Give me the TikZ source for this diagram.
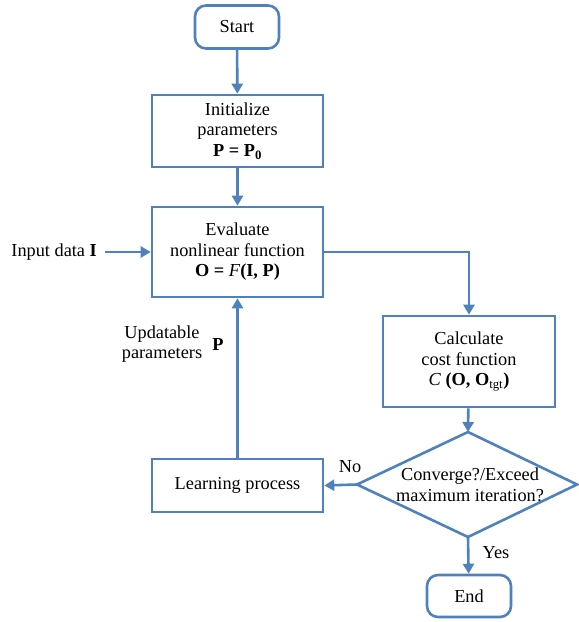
\documentclass[tikz,border=0pt]{standalone}
\usepackage{fontspec}
\setmainfont{Liberation Serif}
\usetikzlibrary{arrows.meta,positioning}
\definecolor{fcblue}{RGB}{79,129,189}
\tikzset{
  box/.style={draw=fcblue, line width=2.6pt, fill=white, align=center, inner sep=2pt, font=\fontsize{18.3}{20.5}\selectfont},
  rbox/.style={box, rounded corners=11pt},
  lbl/.style={align=center, inner sep=1pt, font=\fontsize{18.3}{20.5}\selectfont},
  conn/.style={draw=fcblue, line width=2.6pt, -{Triangle[width=11pt,length=10pt]}},
}
\begin{document}
\begin{tikzpicture}[x=1pt,y=-1pt]
\useasboundingbox (0,0) rectangle (579,622);
\node[rbox, minimum width=84pt, minimum height=43pt] (start) at (237,27) {Start};
\node[box, minimum width=171pt, minimum height=72pt] (init) at (237.5,131) {Initialize\\parameters\\\textbf{P = P}\textsubscript{\textbf{0}}};
\node[box, minimum width=171pt, minimum height=90pt] (eval) at (237.5,252) {Evaluate\\nonlinear function\\\textbf{O = }\textit{F}\textbf{(I, P)}};
\node[box, minimum width=172pt, minimum height=91pt] (calc) at (469,361.5) {Calculate\\cost function\\\textit{C} \textbf{(O, O}\textsubscript{tgt}\textbf{)}};
\node[box, minimum width=171pt, minimum height=53pt] (learn) at (237.5,485.5) {Learning process};
\node[rbox, minimum width=84pt, minimum height=42pt] (end) at (469,596) {End};
% decision diamond
\coordinate (decn) at (468,432);
\coordinate (dece) at (577,484.5);
\coordinate (decs) at (468,537);
\coordinate (decw) at (357,484.5);
\draw[draw=fcblue, line width=2.6pt, line join=miter] (decn) -- (dece) -- (decs) -- (decw) -- cycle;
\node[lbl] (dec) at (470,485) {Converge?/Exceed\\maximum iteration?};
% labels
\node[lbl, anchor=east] (input) at (98,252) {Input data \textbf{I}};
\node[lbl] (upd) at (162,344) {Updatable\\parameters};
\node[lbl] (updP) at (218,345) {\textbf{P}};
\node[lbl] (no) at (350,467) {No};
\node[lbl] (yes) at (496,553) {Yes};
% connectors
\coordinate (inp) at ([xshift=7pt]input.east);
\draw[conn] (start) -- (init);
\draw[conn] (init) -- (eval);
\draw[conn] (inp) -- (eval.west);
\draw[conn] (eval.east) -| (calc.north);
\draw[conn] (calc) -- (decn);
\draw[conn] (decw) -- (learn.east);
\draw[conn] (learn) -- (eval);
\draw[conn] (decs) -- (end);
\end{tikzpicture}
\end{document}
